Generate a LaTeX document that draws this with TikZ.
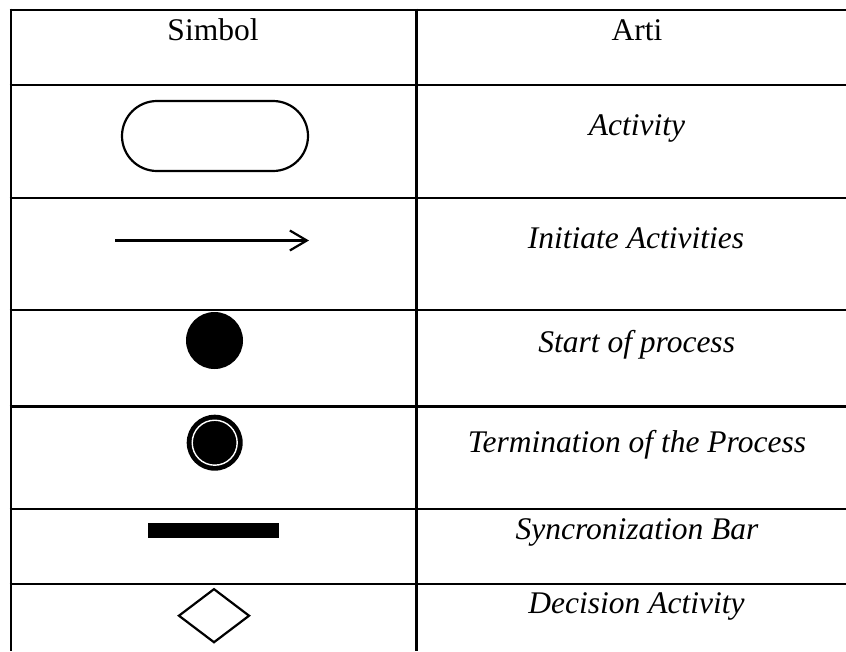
\documentclass[tikz,border=0pt]{standalone}
\usepackage{fontspec}
\setmainfont{Liberation Serif}
\usetikzlibrary{arrows.meta,shapes.geometric}
\begin{document}
\begin{tikzpicture}[x=1pt,y=-1pt,
  gridline/.style={line width=2.6pt},
  lbl/.style={anchor=base, inner sep=0pt, font=\fontsize{31.5}{36}\selectfont},
  ilbl/.style={anchor=base, inner sep=0pt, font=\fontsize{31.5}{36}\selectfont\itshape},
  symline/.style={line width=2.2pt}]
\useasboundingbox (0,0) rectangle (846,651);
% table grid
\draw[gridline] (9.7,10) -- (846,10);
\foreach \yy in {85,198,310,406.7,509,584}{
  \draw[gridline] (9.7,\yy) -- (846,\yy);
}
\draw[gridline] (11,8.7) -- (11,651);
\draw[gridline] (416.7,8.7) -- (416.7,651);
% headers
\node[lbl] (h1) at (213,40) {Simbol};
\node[lbl] (h2) at (637,40) {Arti};
% symbols
\node[draw, symline, rounded corners=35pt, minimum width=186pt, minimum height=70pt, inner sep=0pt] (act) at (215,136) {};
\coordinate (a1) at (115,240.5);
\coordinate (a2) at (309,240.5);
\draw[symline, -{Straight Barb[length=17pt,width=20pt]}] (a1) -- (a2);
\node[circle, fill=black, minimum size=57pt, inner sep=0pt] (start) at (214.5,340.5) {};
\node[circle, fill=black, minimum size=56pt, inner sep=0pt] (stop) at (214.7,442.7) {};
\node[circle, draw=white, line width=1.4pt, minimum size=45pt, inner sep=0pt] (stopin) at (stop.center) {};
\node[rectangle, fill=black, minimum width=131.6pt, minimum height=15.6pt, inner sep=0pt] (bar) at (213.5,530.5) {};
\node[diamond, draw, symline, minimum width=71pt, minimum height=54pt, inner sep=0pt] (dec) at (214,615.7) {};
% meanings
\node[ilbl] (t1) at (637,135) {Activity};
\node[ilbl] (t2) at (636,248) {Initiate Activities};
\node[ilbl] (t3) at (636.7,352) {Start of process};
\node[ilbl] (t4) at (637,452) {Termination of the Process};
\node[ilbl] (t5) at (637,539.5) {Syncronization Bar};
\node[ilbl] (t6) at (636.5,613.5) {Decision Activity};
\end{tikzpicture}
\end{document}
